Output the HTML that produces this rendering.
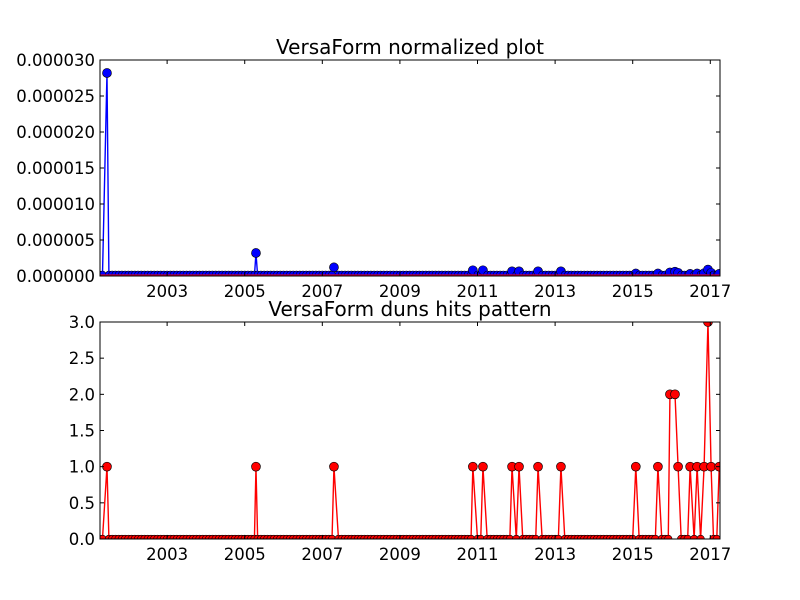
<!DOCTYPE html>
<html><head><meta charset="utf-8">
<style>
html,body{margin:0;padding:0;background:#fff;}
svg{display:block;font-family:"DejaVu Sans","Liberation Sans",sans-serif;}
</style></head>
<body>
<svg id="chart" width="800" height="600" viewBox="0 0 800 600" xmlns="http://www.w3.org/2000/svg">
<rect width="800" height="600" fill="#fff"/>
</svg>
<script>
// Nonzero observations (fractional year), hit counts and normalized values
const hitDates = [2001.45,2005.29,2007.30,2010.88,2011.14,2011.89,2012.07,2012.56,2013.15,2015.08,2015.65,2015.96,2016.09,2016.17,2016.48,2016.66,2016.84,2016.94,2017.02,2017.23];
const hitCounts = [1,1,1,1,1,1,1,1,1,1,1,2,2,1,1,1,1,3,1,1];
const normValues = [2.82e-5,3.2e-6,1.2e-6,0.8e-6,0.8e-6,0.65e-6,0.65e-6,0.65e-6,0.65e-6,0.35e-6,0.35e-6,0.5e-6,0.6e-6,0.45e-6,0.3e-6,0.35e-6,0.4e-6,0.9e-6,0.45e-6,0.3e-6];
const xTicks = [2003,2005,2007,2009,2011,2013,2015,2017];
const yTicksTop = [0,0.000005,0.00001,0.000015,0.00002,0.000025,0.00003];
const yTickLabelsTop = ["0.000000","0.000005","0.000010","0.000015","0.000020","0.000025","0.000030"];
const yTicksBot = [0,0.5,1,1.5,2,2.5,3];
const yTickLabelsBot = ["0.0","0.5","1.0","1.5","2.0","2.5","3.0"];
const xStart = 2001.27, xEnd = 2017.25;

const NS="http://www.w3.org/2000/svg";
const svg=document.getElementById('chart');
function mk(tag,attrs,parent){const e=document.createElementNS(NS,tag);for(const k in attrs)e.setAttribute(k,attrs[k]);(parent||svg).appendChild(e);return e;}

function buildSeries(vals){
  const pts=[];
  for(let t=xStart-0.02;t<=xEnd+0.05;t+=1/12){
    let near=hitDates.some(d=>Math.abs(d-t)<0.04);
    if(!near)pts.push([t,0]);
  }
  hitDates.forEach((d,i)=>pts.push([d,vals[i]]));
  pts.sort((a,b)=>a[0]-b[0]);
  return pts;
}

function panel(o){
  const L=100,R=720,T=o.top,B=o.bottom;
  const xs=t=>L+(t-xStart)/(xEnd-xStart)*(R-L);
  const ys=v=>B-(v-o.ymin)/(o.ymax-o.ymin)*(B-T);
  const g=mk('g',{});
  
  
  const cid='clip'+o.name;
  const cp=mk('clipPath',{id:cid},g);mk('rect',{x:L,y:T,width:R-L,height:B-T},cp);
  const plot=mk('g',{'clip-path':'url(#'+cid+')'},g);
  const pts=buildSeries(o.values);
  const line=mk('polyline',{points:pts.map(p=>xs(p[0]).toFixed(2)+','+ys(p[1]).toFixed(2)).join(' '),fill:'none',stroke:o.color,'stroke-width':1.4},plot);
  
  
  pts.forEach(p=>{
    const c=mk('circle',{cx:xs(p[0]).toFixed(2),cy:(ys(p[1])-(p[1]===0?o.zeroOff:0)).toFixed(2),r:p[1]===0?o.zeroR:4.5,fill:o.color,stroke:'#000','stroke-width':0.6},plot);
    
    
  });
  if(o.redBase){const rl=mk('line',{x1:L,x2:R,y1:B-0.8,y2:B-0.8,stroke:'#d00030','stroke-width':1.6},plot);
    }
  const fr=mk('rect',{x:L,y:T,width:R-L,height:B-T,fill:'none',stroke:'#000','stroke-width':1},g);
  
  xTicks.forEach(t=>{
    const x=xs(t);
    mk('line',{x1:x,x2:x,y1:B,y2:B-4,stroke:'#000'},g);
    mk('line',{x1:x,x2:x,y1:T,y2:T+4,stroke:'#000'},g);
    const tx=mk('text',{x:x,y:B+21,'font-size':16.5,'text-anchor':'middle'},g);tx.textContent=t;
    
  });
  o.yticks.forEach((v,i)=>{
    const y=ys(v);
    mk('line',{x1:L,x2:L+4,y1:y,y2:y,stroke:'#000'},g);
    mk('line',{x1:R,x2:R-4,y1:y,y2:y,stroke:'#000'},g);
    const tx=mk('text',{x:L-5,y:y+6,'font-size':16.5,'text-anchor':'end'},g);tx.textContent=o.ylabels[i];
    
  });
  const ti=mk('text',{x:(L+R)/2,y:T-6,'font-size':20,'text-anchor':'middle'},g);ti.textContent=o.title;
  
}

panel({name:'normalized-panel',top:60,bottom:276,ymin:0,ymax:0.00003,values:normValues,color:'#0000ff',yticks:yTicksTop,ylabels:yTickLabelsTop,title:'VersaForm normalized plot',redBase:true,zeroR:3.5,zeroOff:1.5});
panel({name:'hits-panel',top:322,bottom:539,ymin:0,ymax:3,values:hitCounts,color:'#ff0000',yticks:yTicksBot,ylabels:yTickLabelsBot,title:'VersaForm duns hits pattern',redBase:false,zeroR:3.8,zeroOff:0});
</script>
</body></html>
